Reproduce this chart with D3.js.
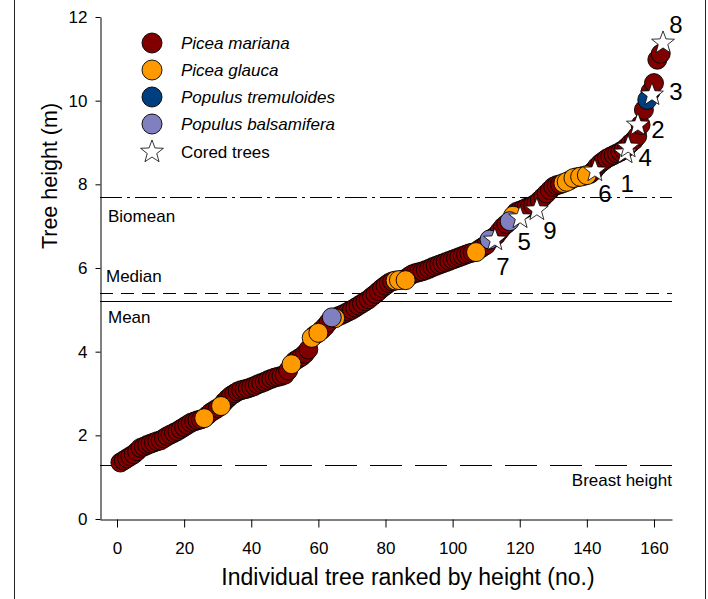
<!DOCTYPE html>
<html><head><meta charset="utf-8">
<script src="https://cdn.jsdelivr.net/npm/d3@7"></script>
<style>
body{margin:0;background:#fff;}
svg text{font-family:"Liberation Sans",Arial,sans-serif;fill:#000;}
</style>
</head><body>
<svg id="chart" width="708" height="599"></svg>
<script>
// ---- data ----
const heights = [
1.35,1.40,1.45,1.50,1.55,1.62,1.70,1.73,1.77,1.80,
1.83,1.86,1.88,1.93,1.98,2.02,2.06,2.10,2.15,2.20,
2.25,2.30,2.33,2.36,2.38,2.41,2.48,2.55,2.60,2.65,
2.70,2.80,2.88,2.95,3.00,3.05,3.08,3.10,3.12,3.15,
3.18,3.22,3.25,3.28,3.32,3.35,3.38,3.40,3.42,3.45,
3.55,3.70,3.78,3.83,3.88,3.95,4.05,4.33,4.40,4.45,
4.52,4.60,4.70,4.82,4.80,4.85,4.88,4.92,4.96,5.00,
5.05,5.10,5.15,5.20,5.25,5.32,5.38,5.45,5.52,5.58,
5.64,5.68,5.70,5.71,5.72,5.71,5.80,5.85,5.88,5.90,
5.92,5.95,5.98,6.02,6.05,6.08,6.11,6.14,6.17,6.20,
6.23,6.26,6.29,6.32,6.35,6.37,6.38,6.45,6.50,6.55,
6.68,6.72,6.78,6.88,6.98,7.05,7.12,7.25,7.34,7.37,
7.40,7.44,7.46,7.50,7.55,7.62,7.70,7.78,7.86,7.94,
7.98,8.00,8.03,8.06,8.10,8.15,8.17,8.18,8.20,8.22,
8.25,8.32,8.42,8.50,8.56,8.62,8.66,8.70,8.74,8.78,
8.83,8.90,8.98,9.05,9.15,9.42,9.78,10.02,10.22,10.42,
10.98,11.12
];
const glaucaRanks = [26,31,52,58,60,65,83,84,86,107,118,133,134,136,138,140];
const tremuloidesRanks = [158];
const balsamiferaRanks = [64,111,117];

const speciesNames = ["Picea mariana","Picea glauca","Populus tremuloides","Populus balsamifera"];
const speciesColors = ["#800000","#FF9900","#003F7F","#8080C0"];

const coredLabels = ["7","5","9","6","1","4","2","3","8"];
const coredRank   = [112.6,120.1,125.1,142.4,151.4,152.3,155.2,159.4,162.7];
const coredHeight = [6.67,7.20,7.39,8.32,8.75,8.89,9.42,10.14,11.38];
const coredLabelOffsets = [[8,27],[4,24],[13,21],[10,23],[2,31],[17,10],[20,5],[24,-3],[13,-18]];

const refNames  = ["Biomean","Median","Mean","Breast height"];
const refValues = [7.7,5.4,5.2,1.3];
const refDash   = ["22,5,3,5","13,8",null,"32,13"];

const xTicks = [0,20,40,60,80,100,120,140,160];
const yTicks = [0,2,4,6,8,10,12];

// ---- build ----
const svg = d3.select("#chart");
const x = d3.scaleLinear().domain([-5.07,165.37]).range([100,672]);
const y = d3.scaleLinear().domain([0,12]).range([519,17]);

// outer frame lines
svg.append("line").attr("x1",14.5).attr("x2",14.5).attr("y1",0).attr("y2",599).attr("stroke","#222").attr("stroke-width",1);
svg.append("line").attr("x1",705.5).attr("x2",705.5).attr("y1",0).attr("y2",599).attr("stroke","#222").attr("stroke-width",1);

// reference lines
refValues.forEach((v,i)=>{
  const l = svg.append("line")
    .attr("x1",100).attr("x2",672)
    .attr("y1",Math.round(y(v))+0.5).attr("y2",Math.round(y(v))+0.5)
    .attr("stroke","#000").attr("stroke-width",1);
  if(refDash[i]) l.attr("stroke-dasharray",refDash[i]);
});
const refLabelPos = [[108,222,"start"],[106,282,"start"],[108,323,"start"],[672,486,"end"]];
refNames.forEach((n,i)=>{
  svg.append("text").attr("x",refLabelPos[i][0]).attr("y",refLabelPos[i][1])
    .attr("text-anchor",refLabelPos[i][2]).attr("font-size",17).text(n);
});

// axes
const xAxis = svg.append("g").attr("transform","translate(0,519.5)")
  .call(d3.axisBottom(x).tickValues(xTicks).tickSize(8).tickPadding(14).tickSizeOuter(0));
const yAxis = svg.append("g").attr("transform","translate(100.5,0)")
  .call(d3.axisLeft(y).tickValues(yTicks).tickSize(5).tickPadding(8).tickSizeOuter(0));
[xAxis,yAxis].forEach(a=>{
  a.select(".domain").attr("stroke","#000");
  a.selectAll(".tick line").attr("stroke","#000");
  a.selectAll("text").attr("font-size",17).attr("font-family","Liberation Sans, Arial, sans-serif").attr("fill","#000");
});

// axis titles
svg.append("text").attr("x",408).attr("y",585).attr("text-anchor","middle").attr("font-size",23)
  .text("Individual tree ranked by height (no.)");
svg.append("text").attr("transform","translate(57,176) rotate(-90)").attr("text-anchor","middle").attr("font-size",21.5)
  .text("Tree height (m)");

// points
const pts = heights.map((h,i)=>{
  const r = i+1;
  let s = 0;
  if(glaucaRanks.includes(r)) s=1;
  if(tremuloidesRanks.includes(r)) s=2;
  if(balsamiferaRanks.includes(r)) s=3;
  return {rank:r,h:h,s:s};
});
const R = 9.5;
[0,1,2,3].forEach(s=>{
  svg.append("g").selectAll("circle").data(pts.filter(p=>p.s===s)).join("circle")
    .attr("cx",d=>x(d.rank)).attr("cy",d=>y(d.h)).attr("r",R)
    .attr("fill",speciesColors[s]).attr("stroke","#000").attr("stroke-width",0.9);
});

// star path
function starPath(ro, ri){
  const p=[];
  for(let k=0;k<10;k++){
    const a = -Math.PI/2 + k*Math.PI/5;
    const rr = k%2===0?ro:ri;
    p.push([rr*Math.cos(a), rr*Math.sin(a)]);
  }
  return "M"+p.map(q=>q[0].toFixed(2)+","+q[1].toFixed(2)).join("L")+"Z";
}
const sp = starPath(12,5);
const cored = coredRank.map((r,i)=>({r:r,h:coredHeight[i],lab:coredLabels[i],off:coredLabelOffsets[i]}));
svg.append("g").selectAll("path").data(cored).join("path")
  .attr("transform",d=>`translate(${x(d.r)},${y(d.h)})`).attr("d",sp)
  .attr("fill","#fff").attr("stroke","#000").attr("stroke-width",0.8);
svg.append("g").selectAll("text").data(cored).join("text")
  .attr("x",d=>x(d.r)+d.off[0]).attr("y",d=>y(d.h)+d.off[1])
  .attr("text-anchor","middle").attr("dominant-baseline","central")
  .attr("font-size",24).text(d=>d.lab);

// legend
const legY = [43,70,97,124];
speciesNames.forEach((n,i)=>{
  svg.append("circle").attr("cx",152).attr("cy",legY[i]).attr("r",10)
    .attr("fill",speciesColors[i]).attr("stroke","#000").attr("stroke-width",0.9);
  svg.append("text").attr("x",181).attr("y",legY[i]+6).attr("font-size",17).attr("font-style","italic").text(n);
});
svg.append("path").attr("transform","translate(152,152)").attr("d",sp)
  .attr("fill","#fff").attr("stroke","#000").attr("stroke-width",0.8);
svg.append("text").attr("x",181).attr("y",158).attr("font-size",17).text("Cored trees");
</script>
</body></html>
